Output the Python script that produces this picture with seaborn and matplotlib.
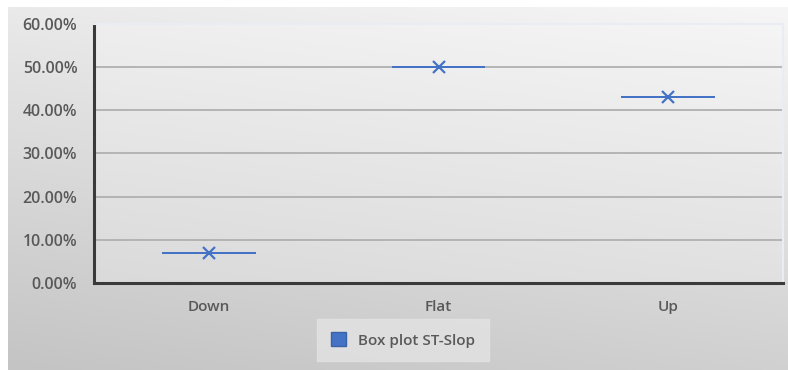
import numpy as np
import pandas as pd
import matplotlib
matplotlib.use("Agg")
import matplotlib.pyplot as plt
import matplotlib.patches as mpatches
from matplotlib.colors import LinearSegmentedColormap
from matplotlib.ticker import FuncFormatter, MultipleLocator
import seaborn as sns

# Data: ST slope categories and their values (fraction)
categories = ["Down", "Flat", "Up"]
values = [0.07, 0.50, 0.43]
series_name = "Box plot ST-Slop"

blue = "#4472C4"
text_color = "#595959"

sns.set_theme(style="white")
plt.rcParams["font.family"] = ["Open Sans", "DejaVu Sans"]

df = pd.DataFrame({"slope": categories, "value": values})

W, H = 788, 370
fig = plt.figure(figsize=(W / 100, H / 100), dpi=100)
fig.patch.set_facecolor("white")

# Gradient chart-area background (light at top, darker toward bottom-left)
bg = fig.add_axes([8 / W, 0, 1 - 8 / W, 1 - 7 / H], zorder=-10)
yy, xx = np.mgrid[0:1:200j, 0:1:400j]
grad = 0.75 * yy + 0.25 * (1 - xx)
cmap_bg = LinearSegmentedColormap.from_list("bg", ["#f6f6f6", "#c4c4c4"])
bg.imshow(grad, cmap=cmap_bg, aspect="auto", extent=[0, 1, 0, 1], origin="upper")
bg.set_axis_off()

ax = fig.add_axes([94 / W, 1 - 283 / H, (783 - 94) / W, (283 - 24) / H])
ax.set_facecolor("none")

# Plot-area gradient, slightly lighter than the surrounding chart area
pa = fig.add_axes(ax.get_position().bounds, zorder=-5)
cmap_pa = LinearSegmentedColormap.from_list("pa", ["#f5f5f5", "#dadada"])
pa.imshow(grad, cmap=cmap_pa, aspect="auto", extent=[0, 1, 0, 1], origin="upper")
pa.set_axis_off()

sns.boxplot(
    data=df, x="slope", y="value", ax=ax, order=categories,
    fill=False, color=blue, linecolor=blue, linewidth=1.3, width=0.4,
    whis=0, showfliers=False, showcaps=False,
    showmeans=True,
    meanprops=dict(marker="x", markersize=9, markeredgecolor=blue,
                   markeredgewidth=1.6),
)

ax.set_ylim(0, 0.60)
ax.set_xlim(-0.5, 2.5)
ax.yaxis.set_major_locator(MultipleLocator(0.10))
ax.yaxis.set_major_formatter(FuncFormatter(lambda v, _: f"{v * 100:.2f}%"))
ax.grid(axis="y", color="#b0b0b0", linewidth=1.3)
ax.set_axisbelow(True)
ax.set_xlabel("")
ax.set_ylabel("")

for side in ("left", "bottom"):
    ax.spines[side].set_color("#3a3a3a")
    ax.spines[side].set_linewidth(2.2)
for side in ("top", "right"):
    ax.spines[side].set_color("#e9ecf2")
    ax.spines[side].set_linewidth(1.5)

ax.tick_params(axis="y", length=0, pad=12, labelsize=11.5, labelcolor=text_color)
ax.tick_params(axis="x", length=0, pad=12, labelsize=11, labelcolor=text_color)
for lbl in ax.get_yticklabels() + ax.get_xticklabels():
    lbl.set_fontweight("semibold")

handle = mpatches.Patch(facecolor=blue, edgecolor="#3a62a8", label=series_name)
leg = fig.legend(
    handles=[handle], loc="center", bbox_to_anchor=(403 / W, 1 - 340 / H),
    frameon=True, fancybox=False, fontsize=11, handlelength=1.0,
    handleheight=1.0, borderpad=0.9, handletextpad=0.8,
)
leg.get_frame().set_facecolor("#e3e3e3")
leg.get_frame().set_edgecolor("#e3e3e3")
for t in leg.get_texts():
    t.set_color(text_color)
    t.set_fontweight("semibold")

fig.savefig("out.png", dpi=100)
